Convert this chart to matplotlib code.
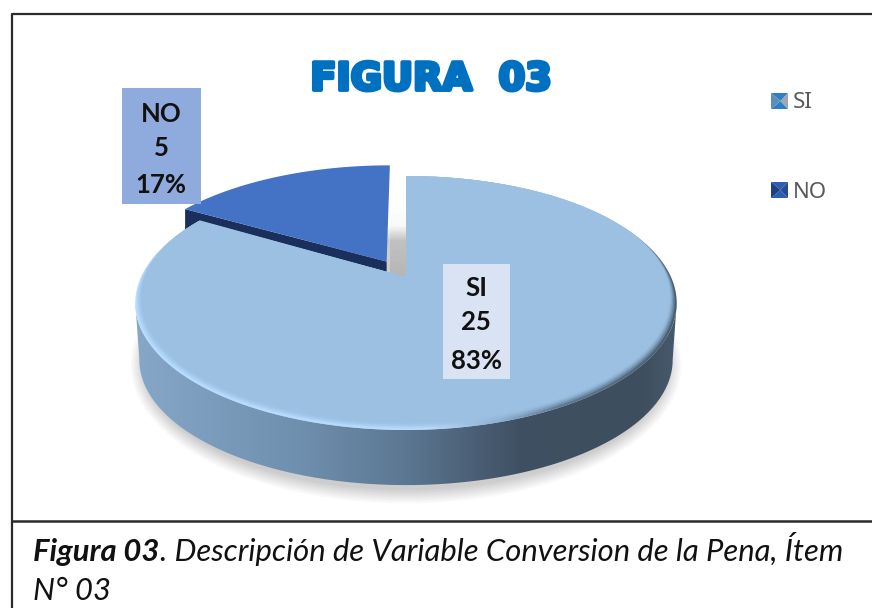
import numpy as np
import matplotlib
matplotlib.use("Agg")
import matplotlib.pyplot as plt
from matplotlib.colors import LinearSegmentedColormap as LSC
from matplotlib.patches import Polygon, Ellipse, Rectangle
import matplotlib.patheffects as pe

# ---- data ----
categories = ["SI", "NO"]
values = [25, 5]
title_text = "FIGURA  03"
caption_bold = "Figura 03"
caption_rest = ". Descripción de Variable Conversion de la Pena, Ítem"
caption_line2 = "N° 03"

# ---- geometry of the perspective pie (pixel space) ----
W, H = 872, 608
CX, CY, RY, B = 406.0, 303.0, 127.0, 26.0
C = B / RY
A = RY
R = 265.0
EXPLODE = [0.0, 0.15]
THICK = 57.0

fig = plt.figure(figsize=(W / 100, H / 100), dpi=100, facecolor="white")
ax = fig.add_axes([0, 0, 1, 1])
ax.set_xlim(0, W)
ax.set_ylim(H, 0)
ax.axis("off")


def project(x, y):
    d = 1 + C * y
    return CX + R * x / d, CY - (A * y + B) / d


def wedge(th0, th1, explode):
    mid = np.radians((th0 + th1) / 2)
    ex, ey = explode * np.sin(mid), explode * np.cos(mid)
    th = np.radians(np.linspace(th0, th1, 240))
    xs = np.r_[ex, ex + np.sin(th)]
    ys = np.r_[ey, ey + np.cos(th)]
    return np.column_stack(project(xs, ys))


def gradient(xs, cols, clip_xy, z, extent):
    cm = LSC.from_list("g", list(zip((np.array(xs) - xs[0]) / (xs[-1] - xs[0]), cols)))
    im = ax.imshow(np.linspace(0, 1, 400)[None, :], cmap=cm, aspect="auto",
                   extent=extent, zorder=z, interpolation="bilinear")
    clip = Polygon(clip_xy, closed=True, transform=ax.transData, fc="none", ec="none")
    ax.add_patch(clip)
    im.set_clip_path(clip)
    ax.set_xlim(0, W)
    ax.set_ylim(H, 0)


total = sum(values)
edges = np.r_[0, np.cumsum(values)] / total * 360
si = wedge(edges[0], edges[1], EXPLODE[0])
no = wedge(edges[1], edges[2], EXPLODE[1])

# frame
frame = "#2b2b2b"
ax.plot([12, 12, W], [H, 13.5, 13.5], color=frame, lw=1.6, zorder=1)
ax.plot([12, W], [521, 521], color=frame, lw=1.8, zorder=1)

# soft shadow
for k in np.arange(0, 15, 1.5):
    ax.add_patch(Ellipse((CX, CY + THICK + 5), 2 * (262 + k), 2 * (125 + k),
                         fc="black", ec="none", alpha=0.018, zorder=2))

# gap wall between the slices, fading upward
apex_si, apex_no = si[0], no[0]
for yy in np.arange(208, apex_si[1] + 1, 6):
    ax.add_patch(Rectangle((apex_no[0] + 3, yy), apex_si[0] - apex_no[0] - 3,
                           apex_si[1] + 1 - yy, fc="black", ec="none", alpha=0.009, zorder=3))

# side of the large slice
top_arc = si[1:]
low = top_arc[top_arc[:, 1] >= CY - 3]
low = low[np.argsort(low[:, 0])]
bottom = np.column_stack([CX + (low[:, 0] - CX) * 0.985,
                          CY + THICK + (low[:, 1] - CY) * 0.985])
side = np.vstack([low, bottom[::-1]])
gradient([135, 300, 400, 520, 640, 677],
         ["#86a7c8", "#6f8fae", "#5d7994", "#3f5062", "#3d4e5e", "#465a6c"],
         side, 4, [135, 677, 500, 290])

# large slice: bevel ring then soft layers up to the face
gradient([135, 430, 500, 560, 677],
         ["#b6dcff", "#b4dafd", "#8fb0d0", "#5f7a94", "#4a5f72"],
         si, 6, [135, 677, 450, 170])
for f, alpha in zip([0.35, 0.6, 0.8, 1.0, 1.2], [0.35, 0.4, 0.5, 0.7, 1.0]):
    t = np.clip((si[1:, 1] - 176) / (CY - 176), 0, 1)
    inner = si.copy()
    inner[1:, 0] = CX + (si[1:, 0] - CX) * (1 - 0.022 * f * t)
    inner[1:, 1] = 176 + (si[1:, 1] - 176) * (1 - 0.026 * f)
    ax.add_patch(Polygon(inner, closed=True, fc="#9bc0e2", ec="none", alpha=alpha, zorder=7))

# small slice with its dark cut face
tip = no[1]
cut = [tuple(apex_no), tuple(tip), (tip[0], tip[1] + 24), (apex_no[0], apex_no[1] + 24)]
ax.add_patch(Polygon(cut, closed=True, fc="#1a2f5c", ec="none", zorder=5))
ax.add_patch(Polygon(no, closed=True, fc="#4472c4", ec="none", zorder=8))

# title
ax.text(431.5, 80, title_text, ha="center", va="center", color="#0070c0",
        family="DejaVu Sans", weight="bold", fontsize=27.5, zorder=10,
        path_effects=[pe.withStroke(linewidth=2.8, foreground="#0070c0")])

# data labels
label_font = dict(family="Lato", weight="bold", fontsize=18.5, color="#111111",
                  ha="center", va="center", zorder=12)
boxes = {"NO": (122, 88, 79, 116, "#8faadc", 161, [114, 148, 185]),
         "SI": (443, 264, 67, 115, "#dae3f3", 476, [288, 322, 361])}
for cat, val in zip(categories, values):
    x0, y0, w, h, col, cx, ys = boxes[cat]
    ax.add_patch(Rectangle((x0, y0), w, h, fc=col, ec="none", zorder=11))
    lines = [cat, str(val), f"{round(100 * val / total)}%"]
    for line, y in zip(lines, ys):
        ax.text(cx, y, line, **label_font)

# legend
legend_style = {"SI": ("#2f7fc4", "#5b8fb8", "#9aa9b5", 101),
                "NO": ("#2a5fb5", "#1f3f80", "#2a4a90", 190)}
for cat in categories:
    outer, left, right, yc = legend_style[cat]
    x0, x1, y0, y1 = 771, 788, yc - 8, yc + 8
    c = ((x0 + x1) / 2 + 1, yc)
    ax.add_patch(Polygon([(x0, y0), (x1, y0), c], fc=outer, ec="none", zorder=10))
    ax.add_patch(Polygon([(x0, y1), (x1, y1), c], fc=outer, ec="none", zorder=10))
    ax.add_patch(Polygon([(x0, y0), (x0, y1), c], fc=left, ec="none", zorder=10))
    ax.add_patch(Polygon([(x1, y0), (x1, y1), c], fc=right, ec="none", zorder=10))
    ax.text(793, yc + 2, cat, family="Noto Sans", fontsize=16, color="#595959",
            ha="left", va="center", zorder=10)

# caption
cap = dict(family="Lato", fontsize=22.3, style="italic", color="#111111", va="baseline", zorder=10)
t1 = ax.text(33, 561, caption_bold, weight="bold", **cap)
fig.canvas.draw()
bb = t1.get_window_extent()
ax.text(bb.x1 + 0.5, 561, caption_rest, **cap)
ax.text(33, 600, caption_line2, **cap)

fig.savefig("out.png", dpi=100, facecolor="white")
